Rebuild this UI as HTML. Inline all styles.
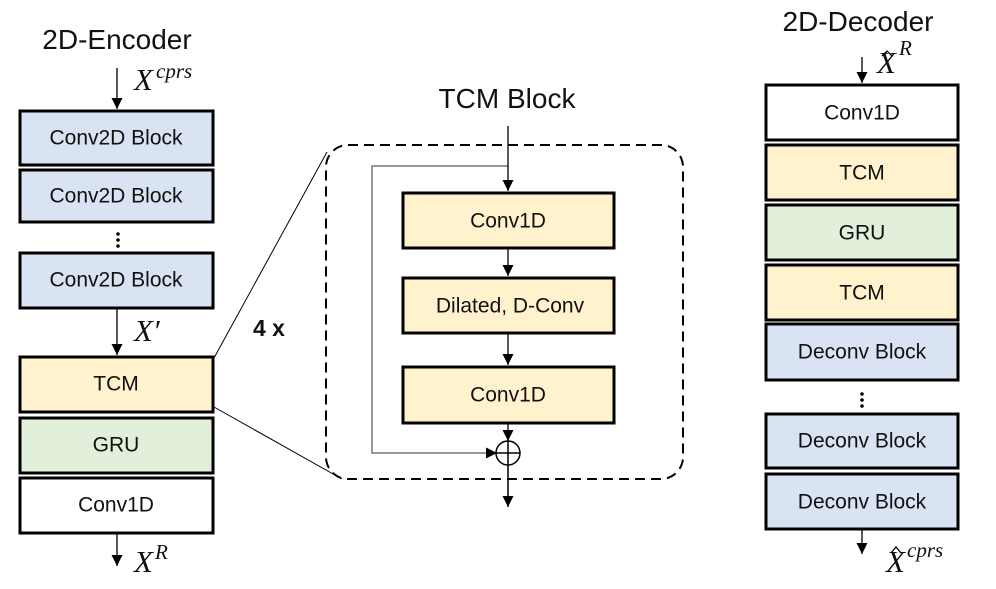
<!DOCTYPE html>
<html><head><meta charset="utf-8"><style>
body{margin:0;background:#fff}
svg{display:block}
text{font-family:"Liberation Sans",sans-serif;fill:#111}
.b{stroke:#000;stroke-width:3}
.l{font-size:21px;text-anchor:middle;dominant-baseline:central}
.m{font-family:"Liberation Serif",serif;font-style:italic;font-size:31px}
.s{font-family:"Liberation Serif",serif;font-style:italic;font-size:21px}
</style></head><body>
<svg width="996" height="589" viewBox="0 0 996 589" xmlns="http://www.w3.org/2000/svg">
<defs>
<marker id="ar" viewBox="0 0 10 10" markerWidth="11" markerHeight="11" refX="10" refY="5" orient="auto" markerUnits="userSpaceOnUse"><path d="M0,0 L10,5 L0,10 z" fill="#000"/></marker></defs>

<!-- Encoder -->
<text x="117" y="49" font-size="28" text-anchor="middle">2D-Encoder</text>
<line x1="117" y1="68" x2="117" y2="109" stroke="#000" stroke-width="1.3" marker-end="url(#ar)"/>
<text x="134" y="90" class="m">X</text><text x="156" y="78" class="s">cprs</text>
<rect x="20" y="111" width="193" height="54" fill="#dae3f3" class="b"/><text x="116" y="138" class="l">Conv2D Block</text>
<rect x="20" y="170" width="193" height="52" fill="#dae3f3" class="b"/><text x="116" y="196" class="l">Conv2D Block</text>
<circle cx="118" cy="234" r="1.8"/><circle cx="118" cy="240" r="1.8"/><circle cx="118" cy="246" r="1.8"/>
<rect x="20" y="253" width="193" height="55" fill="#dae3f3" class="b"/><text x="116" y="280" class="l">Conv2D Block</text>
<line x1="117" y1="309" x2="117" y2="355" stroke="#000" stroke-width="1.3" marker-end="url(#ar)"/>
<text x="134" y="341" class="m">X′</text>
<rect x="20" y="357" width="193" height="55" fill="#fff2cc" class="b"/><text x="116" y="384" class="l">TCM</text>
<rect x="20" y="418" width="193" height="55" fill="#e2efda" class="b"/><text x="116" y="445" class="l">GRU</text>
<rect x="20" y="478" width="193" height="55" fill="#fff" class="b"/><text x="116" y="505" class="l">Conv1D</text>
<line x1="117" y1="534" x2="117" y2="566" stroke="#000" stroke-width="1.3" marker-end="url(#ar)"/>
<text x="134" y="572" class="m">X</text><text x="155" y="559" class="s">R</text>

<!-- zoom lines -->
<line x1="214" y1="358" x2="327" y2="152" stroke="#000" stroke-width="1"/>
<line x1="214" y1="407" x2="342" y2="479" stroke="#000" stroke-width="1"/>
<text x="253" y="336" font-size="23" font-weight="bold">4 x</text>

<!-- TCM block -->
<text x="507" y="108" font-size="28" text-anchor="middle">TCM Block</text>
<rect x="326" y="145" width="357" height="334" rx="22" fill="none" stroke="#000" stroke-width="2" stroke-dasharray="10,6"/>
<polyline points="508,166 372,166 372,453 496,453" fill="none" stroke="#777" stroke-width="1.5"/>
<line x1="486" y1="453" x2="497" y2="453" stroke="#000" marker-end="url(#ar)"/>
<line x1="508" y1="126" x2="508" y2="191" stroke="#000" stroke-width="1.3" marker-end="url(#ar)"/>
<rect x="403" y="193" width="211" height="55" fill="#fff2cc" class="b"/><text x="508" y="221" class="l">Conv1D</text>
<line x1="508" y1="249" x2="508" y2="276" stroke="#000" stroke-width="1.3" marker-end="url(#ar)"/>
<rect x="403" y="278" width="211" height="55" fill="#fff2cc" class="b"/><text x="510" y="306" class="l">Dilated, D-Conv</text>
<line x1="508" y1="334" x2="508" y2="365" stroke="#000" stroke-width="1.3" marker-end="url(#ar)"/>
<rect x="403" y="367" width="211" height="56" fill="#fff2cc" class="b"/><text x="508" y="395" class="l">Conv1D</text>
<line x1="508" y1="424" x2="508" y2="441" stroke="#000" stroke-width="1.3" marker-end="url(#ar)"/>
<circle cx="508" cy="453" r="12" fill="none" stroke="#000" stroke-width="1.5"/>
<line x1="496" y1="453" x2="520" y2="453" stroke="#000" stroke-width="1.5"/>
<line x1="508" y1="441" x2="508" y2="507" stroke="#000" stroke-width="1.5" marker-end="url(#ar)"/>

<!-- Decoder -->
<text x="858" y="31" font-size="28" text-anchor="middle">2D-Decoder</text>
<line x1="862" y1="57" x2="862" y2="83" stroke="#000" stroke-width="1.3" marker-end="url(#ar)"/>
<text x="877" y="73" class="m">X</text><path d="M882,56 L887,51 L892,56" fill="none" stroke="#000" stroke-width="1.3"/><text x="899" y="55" class="s">R</text>
<rect x="766" y="85" width="192" height="55" fill="#fff" class="b"/><text x="862" y="113" class="l">Conv1D</text>
<rect x="766" y="145" width="192" height="55" fill="#fff2cc" class="b"/><text x="862" y="173" class="l">TCM</text>
<rect x="766" y="205" width="192" height="55" fill="#e2efda" class="b"/><text x="862" y="233" class="l">GRU</text>
<rect x="766" y="265" width="192" height="55" fill="#fff2cc" class="b"/><text x="862" y="293" class="l">TCM</text>
<rect x="766" y="324" width="192" height="56" fill="#dae3f3" class="b"/><text x="862" y="352" class="l">Deconv Block</text>
<circle cx="862" cy="394" r="1.8"/><circle cx="862" cy="400" r="1.8"/><circle cx="862" cy="406" r="1.8"/>
<rect x="766" y="414" width="192" height="54" fill="#dae3f3" class="b"/><text x="862" y="441" class="l">Deconv Block</text>
<rect x="766" y="474" width="192" height="55" fill="#dae3f3" class="b"/><text x="862" y="502" class="l">Deconv Block</text>
<line x1="862" y1="530" x2="862" y2="554" stroke="#000" stroke-width="1.3" marker-end="url(#ar)"/>
<text x="886" y="572" class="m">X</text><path d="M891,553 L896,547 L901,553" fill="none" stroke="#000" stroke-width="1.3"/><text x="907" y="557" class="s">cprs</text>
</svg>
</body></html>
